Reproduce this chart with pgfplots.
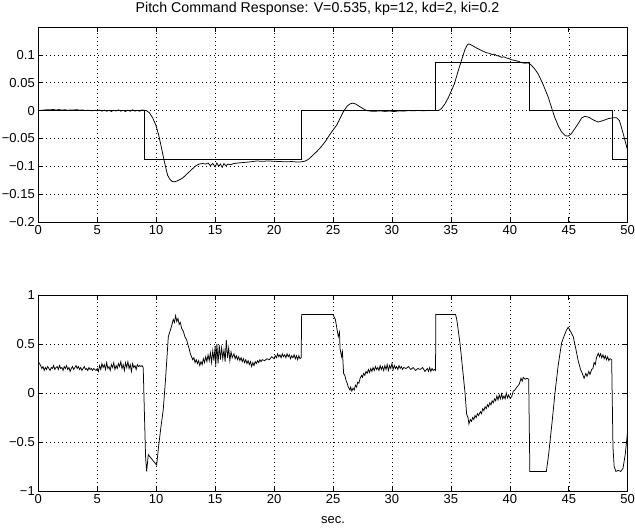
\documentclass[border=0pt]{standalone}
\usepackage{fontspec}
\setmainfont{Liberation Sans}
\usepackage{pgfplots}
\pgfplotsset{compat=1.18}
\pgfplotsset{
  mstyle/.style={
    scale only axis,
    width=589.4bp,
    xmin=0, xmax=50,
    xtick={0,5,10,15,20,25,30,35,40,45,50},
    tick align=inside,
    xtick pos=both, ytick pos=both,
    xticklabel pos=bottom, yticklabel pos=left,
    major tick length=5bp,
    grid=major,
    major grid style={black, line width=0.5bp, dash pattern=on 0.7bp off 3.3bp},
    axis line style={black, line width=0.8bp},
    tick style={black, line width=0.6bp},
    tick label style={font=\fontsize{13bp}{15bp}\selectfont},
    /pgf/number format/assume math mode=true,
    cycle list={{black, mark=none, line width=0.75bp}},
  },
  ln/.style={black, mark=none, line width=0.75bp},
}
\begin{document}
\begin{tikzpicture}
\useasboundingbox (0,0) rectangle (635bp,528bp);
% ---------------- top axis ----------------
\begin{axis}[mstyle,
  at={(38.3bp,306bp)}, anchor=south west,
  height=195bp,
  ymin=-0.2, ymax=0.15,
  ytick={-0.2,-0.15,-0.1,-0.05,0,0.05,0.1},
  yticklabels={−0.2,−0.15,−0.1,−0.05,0,0.05,0.1},
  title={Pitch Command Response: V=0.535, kp=12, kd=2, ki=0.2},
  title style={at={(0.4737,1)}, anchor=base, yshift=9bp, inner sep=0pt,
    font=\fontsize{14.2bp}{16bp}\selectfont},
]
\addplot[ln] coordinates {(0,0)(9.0,0)(9.0,-0.0873)(22.3,-0.0873)(22.3,0)(33.7,0)(33.7,0.0873)(41.7,0.0873)(41.7,0)(48.7,0)(48.7,-0.0873)(50,-0.0873)};
\addplot[ln] coordinates {
(0,0.0)(0.25,0.0005)(0.5,0.001)(0.75,0.0015)(1.0,0.0012)(1.25,0.002)(1.5,0.001)(1.75,0.0018)(2.0,0.0008)(2.25,0.0015)(2.5,0.0005)(2.75,0.0012)(3.0,0.001)(3.25,0.0017)(3.5,0.0006)(3.75,0.0012)(4.0,0.0)(4.25,0.0008)(4.5,-0.0005)(4.75,0.0004)(5.0,-0.0003)
(5.2,0.001)(5.4,-0.001)(5.6,0.0008)(5.8,-0.0012)(6.0,0.0005)(6.2,-0.0015)(6.4,0.0006)(6.6,-0.0008)(6.8,0.0012)(7.0,-0.001)(7.2,0.0004)(7.4,-0.0016)(7.6,0.0008)(7.8,-0.0012)(8.0,0.0014)(8.2,-0.001)(8.4,0.0006)(8.6,-0.0012)(8.8,0.001)(9.0,0.0005)
(9.2,-0.0005)(9.42,-0.0038)(9.7,-0.013)(9.98,-0.0265)(10.2,-0.043)(10.4,-0.062)(10.55,-0.077)(10.7,-0.092)(10.85,-0.106)(10.97,-0.116)(11.15,-0.123)(11.35,-0.127)(11.54,-0.128)(11.75,-0.1265)(12.0,-0.124)(12.25,-0.121)(12.5,-0.116)(12.8,-0.110)(13.1,-0.104)(13.37,-0.099)(13.65,-0.096)(13.94,-0.095)(14.2,-0.096)
(14.4,-0.094)(14.6,-0.099)(14.8,-0.095)(15.0,-0.101)(15.15,-0.094)(15.3,-0.100)(15.45,-0.096)(15.6,-0.102)(15.75,-0.095)(15.9,-0.099)(16.1,-0.096)(16.3,-0.097)(16.6,-0.095)(17.0,-0.094)(17.5,-0.093)(18.0,-0.092)(18.5,-0.0905)(19.0,-0.091)(19.5,-0.0905)(20.0,-0.091)(20.5,-0.0915)(21.0,-0.092)(21.5,-0.0915)(22.0,-0.0925)(22.3,-0.092)(22.6,-0.091)
(22.8,-0.089)(23.0,-0.086)(23.3,-0.080)(23.6,-0.074)(24.0,-0.065)(24.4,-0.054)(24.7,-0.044)(25.0,-0.035)(25.3,-0.0265)(25.6,-0.014)(25.9,-0.0014)(26.2,0.008)(26.45,0.012)(26.67,0.0134)(26.9,0.012)(27.2,0.008)(27.5,0.004)(27.85,0.0)
(28.2,-0.001)(28.6,-0.0012)(29.0,-0.0005)(29.4,-0.0015)(29.8,-0.0008)(30.2,-0.0018)(30.6,-0.0005)(31.0,-0.001)(31.4,0.0)(31.8,-0.0005)(32.2,0.0002)(32.6,-0.0003)(33.0,0.0)(33.4,0.0002)(33.7,0.0)(34.0,0.0005)
(34.2,0.0036)(34.5,0.012)(34.8,0.024)(35.05,0.036)(35.3,0.048)(35.6,0.07)(35.9,0.09)(36.2,0.11)(36.4,0.118)(36.53,0.1197)(36.8,0.117)(37.2,0.112)(37.6,0.1077)(38.0,0.104)(38.3,0.1025)(38.5,0.1005)(38.7,0.1012)(38.9,0.0985)(39.1,0.0978)(39.3,0.0957)(39.5,0.0965)(39.7,0.0945)(39.9,0.0935)(40.1,0.0915)(40.3,0.0905)(40.5,0.0895)(40.7,0.0886)(41.0,0.086)(41.3,0.085)(41.56,0.0857)
(41.8,0.082)(42.1,0.075)(42.4,0.066)(42.8,0.048)(43.26,0.024)(43.5,0.008)(43.8,-0.0116)(44.1,-0.027)(44.39,-0.0385)(44.7,-0.045)(44.95,-0.046)(45.2,-0.042)(45.5,-0.033)(45.8,-0.0234)(46.1,-0.013)(46.37,-0.0104)(46.7,-0.012)(47.1,-0.017)(47.5,-0.0206)(47.9,-0.018)(48.35,-0.0145)(48.7,-0.013)(49.05,-0.0127)(49.3,-0.018)(49.6,-0.04)(49.8,-0.056)(50,-0.072)
};
\end{axis}
% ---------------- bottom axis ----------------
\begin{axis}[mstyle,
  at={(38.3bp,37bp)}, anchor=south west,
  height=196bp,
  ymin=-1, ymax=1,
  ytick={-1,-0.5,0,0.5,1},
  yticklabels={−1,−0.5,0,0.5,1},
  xlabel={sec.},
  xlabel style={at={(0.5,0)}, anchor=base, yshift=-32bp, inner sep=0pt,
    font=\fontsize{13bp}{15bp}\selectfont},
]
\addplot[ln] coordinates {
(0,0.32)(0.1,0.30)(0.2,0.28)(0.3,0.25)(0.4,0.27)(0.5,0.23)(0.6,0.26)(0.7,0.24)(0.8,0.27)(0.9,0.25)(1.0,0.23)(1.1,0.26)(1.2,0.25)(1.3,0.28)(1.4,0.24)(1.5,0.26)(1.6,0.27)(1.7,0.24)(1.8,0.28)(1.9,0.25)(2.0,0.26)(2.1,0.23)(2.2,0.27)(2.3,0.25)(2.4,0.28)(2.5,0.24)(2.6,0.26)(2.7,0.22)(2.8,0.25)(2.9,0.27)(3.0,0.24)(3.1,0.26)(3.2,0.28)(3.3,0.25)(3.4,0.27)(3.5,0.24)(3.6,0.26)(3.7,0.23)(3.8,0.25)(3.9,0.27)(4.0,0.24)(4.1,0.25)(4.2,0.23)(4.3,0.26)(4.4,0.24)(4.5,0.25)(4.6,0.23)(4.7,0.25)(4.8,0.24)(4.9,0.23)(5.0,0.25)
(5.1,0.22)(5.2,0.28)(5.3,0.24)(5.4,0.30)(5.5,0.26)(5.6,0.29)(5.7,0.24)(5.8,0.31)(5.9,0.25)(6.0,0.27)(6.1,0.23)(6.2,0.29)(6.3,0.26)(6.4,0.31)(6.5,0.24)(6.6,0.28)(6.7,0.25)(6.8,0.30)(6.9,0.27)(7.0,0.32)(7.1,0.25)(7.2,0.29)(7.3,0.23)(7.4,0.31)(7.5,0.26)(7.6,0.32)(7.7,0.25)(7.8,0.29)(7.9,0.22)(8.0,0.30)(8.1,0.26)(8.2,0.28)(8.3,0.24)(8.4,0.29)(8.5,0.27)(8.6,0.28)(8.7,0.27)(8.8,0.28)(8.9,0.26)
(9.0,-0.2)(9.1,-0.65)(9.19,-0.80)(9.33,-0.63)(9.6,-0.67)(9.8,-0.70)(10.04,-0.735)(10.2,-0.55)(10.4,-0.35)(10.6,-0.17)(10.8,0.15)(11.03,0.575)(11.3,0.68)(11.45,0.75)(11.55,0.72)(11.65,0.79)(11.75,0.73)(11.85,0.76)(11.95,0.70)(12.05,0.72)(12.16,0.66)(12.3,0.63)(12.45,0.57)(12.59,0.54)(12.7,0.49)(12.8,0.45)(12.9,0.40)(13.0,0.37)
(13.1,0.34)(13.2,0.36)(13.3,0.31)(13.4,0.34)(13.5,0.30)(13.6,0.33)(13.7,0.28)(13.8,0.32)(13.9,0.29)(14.0,0.35)(14.1,0.31)(14.2,0.37)(14.3,0.32)(14.4,0.39)(14.5,0.33)(14.6,0.41)(14.7,0.31)(14.8,0.43)(14.9,0.33)(15.0,0.48)(15.05,0.27)(15.15,0.50)(15.25,0.30)(15.35,0.49)(15.45,0.34)(15.55,0.46)(15.65,0.35)(15.75,0.44)(15.85,0.32)(15.95,0.54)(16.05,0.36)(16.15,0.46)(16.25,0.33)(16.35,0.42)(16.45,0.36)(16.6,0.40)(16.7,0.35)(16.8,0.38)(16.9,0.34)(17.0,0.37)(17.1,0.33)(17.2,0.36)(17.3,0.32)(17.4,0.35)(17.5,0.31)(17.6,0.34)(17.7,0.30)(17.8,0.33)(17.9,0.29)(18.0,0.32)(18.1,0.27)(18.2,0.31)(18.3,0.28)(18.4,0.32)(18.5,0.30)(18.6,0.33)(18.7,0.31)(18.8,0.34)(18.9,0.32)(19.0,0.34)(19.2,0.33)(19.4,0.35)(19.6,0.34)(19.8,0.37)(20.0,0.35)(20.1,0.38)(20.2,0.36)(20.3,0.40)(20.4,0.37)(20.5,0.39)(20.6,0.36)(20.7,0.40)(20.8,0.37)(20.9,0.39)(21.0,0.36)(21.1,0.40)(21.2,0.37)(21.3,0.39)(21.4,0.35)(21.5,0.38)(21.6,0.36)(21.7,0.39)(21.8,0.35)(21.9,0.38)(22.0,0.34)(22.1,0.38)(22.2,0.35)(22.3,0.36)
(22.34,0.80)(25.0,0.80)(25.2,0.75)(25.45,0.575)(25.55,0.62)(25.6,0.45)(25.73,0.37)(25.8,0.42)(25.9,0.20)(26.0,0.18)(26.1,0.13)(26.2,0.10)(26.3,0.06)(26.44,0.03)(26.5,0.06)(26.6,0.02)(26.7,0.05)(26.8,0.03)(26.9,0.08)(27.0,0.06)(27.1,0.11)(27.2,0.10)(27.3,0.15)(27.43,0.18)(27.5,0.16)(27.6,0.20)(27.7,0.18)(27.8,0.22)(27.9,0.20)(28.0,0.24)(28.1,0.21)(28.2,0.25)(28.3,0.22)(28.4,0.26)(28.5,0.23)(28.6,0.27)(28.7,0.24)(28.8,0.26)(28.9,0.23)(29.0,0.28)(29.1,0.24)(29.2,0.27)(29.3,0.23)(29.4,0.28)(29.5,0.24)(29.6,0.29)(29.7,0.23)(29.8,0.28)(29.9,0.25)(30.0,0.30)(30.1,0.24)(30.2,0.28)(30.3,0.25)(30.4,0.27)(30.5,0.24)(30.6,0.28)(30.7,0.25)(30.8,0.27)(30.9,0.24)(31.0,0.26)(31.2,0.25)(31.4,0.27)(31.6,0.24)(31.8,0.26)(32.0,0.23)(32.2,0.25)(32.4,0.24)(32.6,0.26)(32.8,0.22)(33.0,0.25)(33.1,0.22)(33.2,0.26)(33.3,0.22)(33.4,0.25)(33.5,0.23)(33.6,0.24)(33.7,0.23)
(33.72,0.80)(35.4,0.80)(35.5,0.75)(35.77,0.51)(36.0,0.24)(36.2,0.0)(36.34,-0.22)(36.45,-0.25)(36.53,-0.316)(36.65,-0.27)(36.75,-0.29)(36.85,-0.25)(36.95,-0.27)(37.05,-0.23)(37.15,-0.25)(37.25,-0.21)(37.35,-0.23)(37.5,-0.19)(37.6,-0.21)(37.7,-0.16)(37.8,-0.18)(37.9,-0.14)(38.0,-0.16)(38.1,-0.12)(38.2,-0.14)(38.3,-0.10)(38.4,-0.12)(38.5,-0.08)(38.6,-0.10)(38.7,-0.06)(38.8,-0.08)(38.9,-0.03)(39.0,-0.07)(39.1,-0.02)(39.2,-0.06)(39.3,-0.01)(39.4,-0.06)(39.5,-0.03)(39.6,-0.06)(39.7,0.0)(39.8,-0.05)(39.9,-0.02)(40.0,-0.05)(40.15,-0.04)(40.3,0.02)(40.43,0.03)(40.6,0.06)(40.8,0.09)(40.95,0.15)(41.05,0.12)(41.14,0.16)(41.3,0.14)(41.45,0.15)(41.6,0.14)
(41.7,-0.80)(43.1,-0.80)(43.3,-0.62)(43.6,-0.28)(43.83,0.0)(44.1,0.28)(44.39,0.51)(44.6,0.58)(44.8,0.64)(44.95,0.67)(45.1,0.64)(45.38,0.575)(45.6,0.45)(45.8,0.33)(46.0,0.24)(46.15,0.20)(46.3,0.15)(46.45,0.20)(46.55,0.17)(46.7,0.22)(46.8,0.19)(46.94,0.24)(47.05,0.25)(47.15,0.31)(47.25,0.29)(47.35,0.36)(47.5,0.405)(47.6,0.37)(47.7,0.40)(47.8,0.36)(47.9,0.39)(48.0,0.35)(48.1,0.38)(48.2,0.34)(48.3,0.37)(48.4,0.33)(48.5,0.35)(48.64,0.34)
(48.75,-0.55)(48.85,-0.75)(49.0,-0.80)(49.2,-0.79)(49.4,-0.80)(49.6,-0.77)(49.8,-0.62)(50,-0.38)
};
\end{axis}
\end{tikzpicture}
\end{document}
